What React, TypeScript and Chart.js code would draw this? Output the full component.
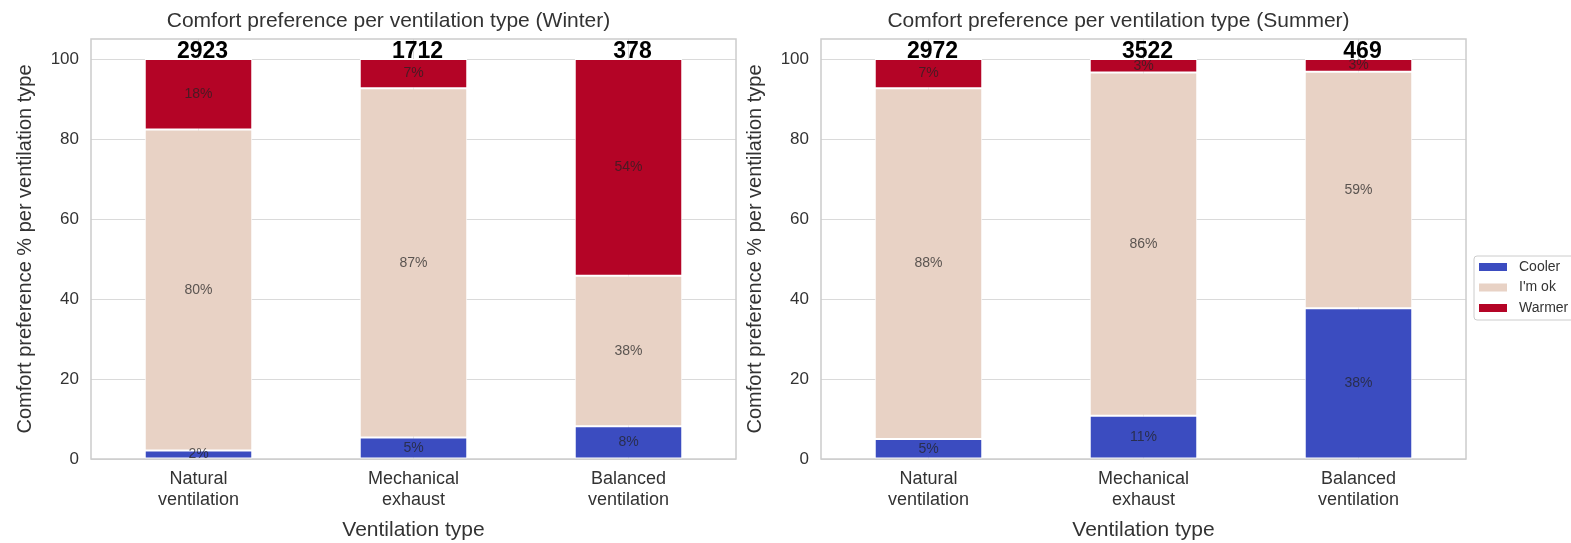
import React, { useEffect, useRef } from 'react';
import { Chart, registerables } from 'chart.js';

Chart.register(...registerables);

// ---------- data ----------
const categories: string[][] = [
  ['Natural', 'ventilation'],
  ['Mechanical', 'exhaust'],
  ['Balanced', 'ventilation'],
];
const seriesNames = ['Cooler', "I'm ok", 'Warmer'];
const seriesColors = ['#3b4cc0', '#e8d2c5', '#b40426'];

const winterCooler = [2.1, 5.4, 8.2];
const winterOk = [80.3, 87.3, 37.6];
const winterWarmer = [17.6, 7.3, 54.2];
const winterCounts = [2923, 1712, 378];

const summerCooler = [5.0, 10.8, 37.7];
const summerOk = [87.7, 85.8, 59.1];
const summerWarmer = [7.3, 3.4, 3.2];
const summerCounts = [2972, 3522, 469];

const yTicks = [0, 20, 40, 60, 80, 100];
const yMax = 105;

const winterTitle = 'Comfort preference per ventilation type (Winter)';
const summerTitle = 'Comfort preference per ventilation type (Summer)';
const xTitle = 'Ventilation type';
const yTitle = 'Comfort preference % per ventilation type';

// ---------- style ----------
const FONT = "'Liberation Sans', Arial, sans-serif";
const TEXT = '#333333';
const GRID = '#dadada';
const FRAME = '#cccccc';

const chartTitle = {
  id: 'chartTitle',
  afterDraw(chart: any, _args: any, opts: any) {
    const ctx = chart.ctx;
    const { left, right } = chart.chartArea;
    ctx.save();
    ctx.font = `21px ${FONT}`;
    ctx.fillStyle = TEXT;
    ctx.textAlign = 'center';
    ctx.textBaseline = 'middle';
    ctx.fillText(opts.text, (left + right) / 2 - 25, 21);
    ctx.restore();
  },
};

const segmentLabels = {
  id: 'segmentLabels',
  afterDatasetsDraw(chart: any, _args: any, opts: any) {
    const ctx = chart.ctx;
    ctx.save();
    ctx.font = `14px ${FONT}`;
    ctx.fillStyle = 'rgba(35,35,35,0.72)';
    ctx.textAlign = 'center';
    ctx.textBaseline = 'middle';
    chart.data.datasets.forEach((ds: any, di: number) => {
      const meta = chart.getDatasetMeta(di);
      meta.data.forEach((bar: any, i: number) => {
        const v = ds.data[i];
        const cy = (bar.y + bar.base) / 2;
        ctx.fillText(`${Math.round(v)}%`, bar.x, cy);
      });
    });
    // counts on top
    const counts: number[] = opts.counts || [];
    const yScale = chart.scales.y;
    const meta0 = chart.getDatasetMeta(0);
    ctx.font = `bold 23px ${FONT}`;
    ctx.fillStyle = '#000';
    ctx.textBaseline = 'alphabetic';
    counts.forEach((c, i) => {
      const x = meta0.data[i].x + 4;
      ctx.fillText(String(c), x, yScale.getPixelForValue(100) - 1);
    });
    ctx.restore();
  },
};

const frame = {
  id: 'frame',
  beforeDatasetsDraw(chart: any) {
    const { left, top, right, bottom } = chart.chartArea;
    const ctx = chart.ctx;
    ctx.save();
    ctx.strokeStyle = FRAME;
    ctx.lineWidth = 1.5;
    ctx.strokeRect(left, top, right - left, bottom - top);
    ctx.restore();
  },
};

const boxLegend = {
  id: 'boxLegend',
  afterDraw(chart: any, _args: any, opts: any) {
    if (!opts || !opts.show) return;
    const ctx = chart.ctx;
    const x0 = opts.x;
    const y0 = opts.y;
    ctx.save();
    ctx.fillStyle = 'rgba(255,255,255,0.9)';
    ctx.strokeStyle = FRAME;
    ctx.lineWidth = 1;
    const w = 110;
    const h = 64;
    const r = 3;
    ctx.beginPath();
    ctx.moveTo(x0 + r, y0);
    ctx.lineTo(x0 + w - r, y0);
    ctx.quadraticCurveTo(x0 + w, y0, x0 + w, y0 + r);
    ctx.lineTo(x0 + w, y0 + h - r);
    ctx.quadraticCurveTo(x0 + w, y0 + h, x0 + w - r, y0 + h);
    ctx.lineTo(x0 + r, y0 + h);
    ctx.quadraticCurveTo(x0, y0 + h, x0, y0 + h - r);
    ctx.lineTo(x0, y0 + r);
    ctx.quadraticCurveTo(x0, y0, x0 + r, y0);
    ctx.closePath();
    ctx.fill();
    ctx.stroke();
    ctx.font = `14px ${FONT}`;
    ctx.textBaseline = 'middle';
    ctx.textAlign = 'left';
    chart.data.datasets.forEach((ds: any, i: number) => {
      const cy = y0 + 11 + i * 20.5;
      ctx.fillStyle = ds.backgroundColor;
      ctx.fillRect(x0 + 5, cy - 4, 28, 8);
      ctx.fillStyle = TEXT;
      ctx.fillText(ds.label, x0 + 45, cy);
    });
    ctx.restore();
  },
};

function makeConfig(
  title: string,
  cooler: number[],
  ok: number[],
  warmer: number[],
  counts: number[],
  rightPad: number,
  legend: any
): any {
  const series = [cooler, ok, warmer];
  return {
    type: 'bar',
    data: {
      labels: categories,
      datasets: series.map((d, i) => ({
        label: seriesNames[i],
        data: d,
        backgroundColor: seriesColors[i],
        borderColor: '#ffffff',
        borderWidth: 1,
        borderSkipped: false,
        barPercentage: 0.5,
        categoryPercentage: 1.0,
      })),
    },
    options: {
      responsive: false,
      animation: false,
      devicePixelRatio: 1,
      layout: { padding: { left: 0, right: rightPad, top: 39, bottom: 0 } },
      plugins: {
        legend: { display: false },
        tooltip: { enabled: false },
        title: { display: false },
        chartTitle: { text: title },
        segmentLabels: { counts },
        boxLegend: legend,
      },
      scales: {
        x: {
          stacked: true,
          grid: { display: true, offset: false, color: GRID, drawTicks: false, lineWidth: 1 },
          border: { display: false },
          ticks: {
            font: { family: FONT, size: 18 },
            color: TEXT,
            padding: 9,
            maxRotation: 0,
            autoSkip: false,
          },
          title: {
            display: true,
            text: xTitle,
            color: TEXT,
            font: { family: FONT, size: 21 },
            padding: { top: 0, bottom: 0 },
          },
          afterFit: (s: any) => {
            s.height = 84;
          },
        },
        y: {
          stacked: true,
          min: 0,
          max: yMax,
          afterBuildTicks: (s: any) => {
            s.ticks = yTicks.map((v) => ({ value: v }));
          },
          grid: { color: GRID, drawTicks: false, lineWidth: 1 },
          border: { display: false },
          ticks: {
            font: { family: FONT, size: 17 },
            color: TEXT,
            padding: 12,
          },
          title: {
            display: true,
            text: yTitle,
            color: TEXT,
            font: { family: FONT, size: 20 },
            padding: { top: 13, bottom: 0 },
          },
          afterFit: (s: any) => {
            s.width = 91;
          },
        },
      },
    },
    plugins: [frame, segmentLabels, boxLegend, chartTitle],
  };
}

export default function App() {
  const ref1 = useRef<HTMLCanvasElement>(null);
  const ref2 = useRef<HTMLCanvasElement>(null);

  useEffect(() => {
    document.body.style.margin = '0';
    const c1 = new Chart(
      ref1.current as HTMLCanvasElement,
      makeConfig(winterTitle, winterCooler, winterOk, winterWarmer, winterCounts, 4, { show: false })
    );
    const c2 = new Chart(
      ref2.current as HTMLCanvasElement,
      makeConfig(summerTitle, summerCooler, summerOk, summerWarmer, summerCounts, 105, {
        show: true,
        x: 744,
        y: 256,
      })
    );
    return () => {
      c1.destroy();
      c2.destroy();
    };
  }, []);

  return (
    <div
      style={{
        position: 'absolute',
        left: 0,
        top: 0,
        width: 1571,
        height: 543,
        background: '#ffffff',
        overflow: 'hidden',
      }}
    >
      <canvas ref={ref1} width={740} height={543} style={{ position: 'absolute', left: 0, top: 0 }} />
      <canvas ref={ref2} width={841} height={543} style={{ position: 'absolute', left: 730, top: 0 }} />
    </div>
  );
}
